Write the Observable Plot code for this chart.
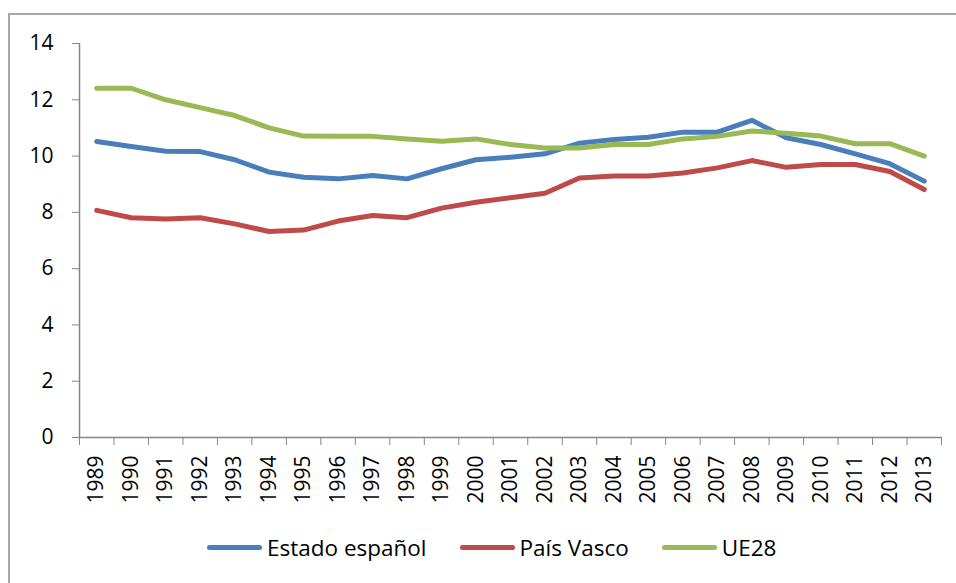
<!DOCTYPE html>
<html>
<head>
<meta charset="utf-8">
<script src="https://cdn.jsdelivr.net/npm/d3@7"></script>
<script src="https://cdn.jsdelivr.net/npm/@observablehq/plot@0.6"></script>
<style>
  html, body { margin: 0; padding: 0; background: #fff; }
  #wrap { position: relative; width: 956px; height: 583px; overflow: hidden; font-family: "Open Sans", sans-serif; }
  #frame { position: absolute; left: 8px; top: 13px; width: 960px; height: 600px; border: 2px solid #a6a6a6; box-sizing: border-box; }
  #chart { position: absolute; left: 0; top: 0; }
  #legend { position: absolute; left: 207px; top: 532px; display: flex; align-items: center; font-size: 22.5px; color: #000; white-space: nowrap; }
  .item { display: flex; align-items: center; margin-right: 33px; }
  .sw { width: 55px; height: 5px; border-radius: 3px; margin-right: 5px; }
</style>
</head>
<body>
<div id="wrap">
  <div id="frame"></div>
  <div id="chart"></div>
  <div id="legend"></div>
</div>
<script>
const years = [1989,1990,1991,1992,1993,1994,1995,1996,1997,1998,1999,2000,2001,2002,2003,2004,2005,2006,2007,2008,2009,2010,2011,2012,2013];
const estado = [10.52,10.34,10.17,10.16,9.87,9.43,9.25,9.19,9.31,9.19,9.55,9.87,9.96,10.08,10.46,10.59,10.67,10.85,10.85,11.27,10.65,10.41,10.08,9.73,9.11];
const vasco  = [8.07,7.81,7.76,7.81,7.59,7.32,7.37,7.69,7.89,7.81,8.15,8.36,8.52,8.68,9.22,9.29,9.29,9.40,9.58,9.84,9.60,9.70,9.70,9.45,8.81];
const ue28   = [12.41,12.41,12.00,11.72,11.44,11.00,10.71,10.70,10.70,10.61,10.53,10.61,10.41,10.29,10.29,10.41,10.41,10.61,10.70,10.89,10.81,10.71,10.44,10.44,10.00];
const seriesNames = ["Estado español", "País Vasco", "UE28"];
const seriesColors = ["#4a7ebb", "#be4b48", "#98b954"];
const yTicks = [0,2,4,6,8,10,12,14];

const seriesValues = [estado, vasco, ue28];
const rows = [];
seriesNames.forEach((name, i) => years.forEach((yr, j) => rows.push({series: name, year: yr, value: seriesValues[i][j]})));

const xDomain = [years[0] - 0.5, years[years.length - 1] + 0.5];
const boundaries = years.map(y => y - 0.5).concat([years[years.length - 1] + 0.5]);
const axisGray = "#868686";

const chart = Plot.plot({
  width: 956,
  height: 537,
  marginLeft: 79,
  marginRight: 15,
  marginTop: 43,
  marginBottom: 100,
  style: { fontFamily: "Open Sans, sans-serif", fontSize: "21px", color: "#000", background: "transparent", overflow: "visible" },
  x: { type: "linear", domain: xDomain },
  y: { domain: [0, 14] },
  color: { domain: seriesNames, range: seriesColors },
  marks: [
    Plot.ruleX([xDomain[0]], { stroke: axisGray, strokeWidth: 1.5 }),
    Plot.ruleY([0], { stroke: axisGray, strokeWidth: 1.5 }),
    Plot.axisY({ ticks: yTicks, tickSize: 7, tickPadding: 19, stroke: axisGray, fill: "#000", label: null, tickFormat: d => String(d) }),
    Plot.axisX({ ticks: boundaries, tickSize: 8, stroke: axisGray, tickFormat: () => "", label: null }),
    Plot.axisX({ ticks: years, tickSize: 0, tickPadding: 18, tickRotate: -90, fill: "#000", tickFormat: d => String(d), label: null }),
    Plot.line(rows, { x: "year", y: "value", z: "series", stroke: "series", strokeWidth: 5, strokeLinecap: "round", strokeLinejoin: "round" })
  ]
});
document.getElementById("chart").appendChild(chart);

const legend = document.getElementById("legend");
seriesNames.forEach((name, i) => {
  const it = document.createElement("div");
  it.className = "item";
  const sw = document.createElement("div");
  sw.className = "sw";
  sw.style.background = seriesColors[i];
  const tx = document.createElement("span");
  tx.textContent = name;
  it.appendChild(sw); it.appendChild(tx);
  legend.appendChild(it);
});
</script>
</body>
</html>
